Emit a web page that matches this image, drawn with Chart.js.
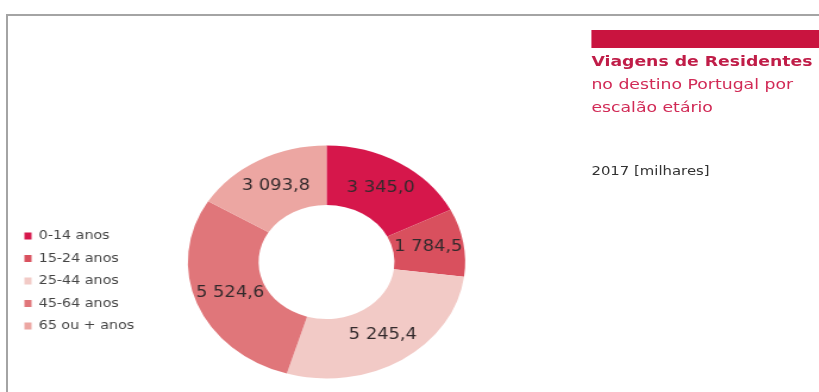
<!DOCTYPE html>
<html lang="pt">
<head>
<meta charset="utf-8">
<title>Viagens de Residentes por escalão etário</title>
<script src="https://cdn.jsdelivr.net/npm/chart.js@4/dist/chart.umd.min.js"></script>
<style>
  html, body { margin: 0; padding: 0; background: #fff; overflow: hidden; }
  body { width: 819px; height: 392px; position: relative; font-family: "DejaVu Sans", sans-serif; }
  #moldura { position: absolute; left: 6px; top: 14px; width: 1000px; height: 1000px; border: 2px solid #a4a4a4; }
  /* tudo é desenhado um pouco esticado na horizontal */
  #painel { position: absolute; left: 0; top: 0; width: 688px; height: 392px; transform: scaleX(1.19); transform-origin: 0 0; }
  #grafico { position: absolute; left: 0; top: 0; }
  #barra { position: absolute; left: 497px; top: 30px; width: 200px; height: 18px; background: #c9143f; }
  #titulo { position: absolute; left: 497px; top: 50px; font-size: 14.5px; line-height: 23px; color: #d12a56; white-space: nowrap; }
  #titulo b { color: #c01d48; }
  #unidade { position: absolute; left: 497px; top: 163px; font-size: 12.5px; color: #333; white-space: nowrap; }
</style>
</head>
<body>
<div id="moldura"></div>
<div id="painel">
  <canvas id="grafico" width="688" height="392"></canvas>
  <div id="barra"></div>
  <div id="titulo"><b>Viagens de Residentes</b><br>no destino Portugal por<br>escalão etário</div>
  <div id="unidade">2017 [milhares]</div>
</div>
<script>
// escalões etários e viagens (milhares)
const escaloes = ["0-14 anos", "15-24 anos", "25-44 anos", "45-64 anos", "65 ou + anos"];
const viagens = [3345.0, 1784.5, 5245.4, 5524.6, 3093.8];
const cores = ["#d6174b", "#d9505e", "#f2cac6", "#e0767a", "#eca6a2"];

// 3345.0 -> "3 345,0"
function formatar(v) {
  const partes = v.toFixed(1).split(".");
  return partes[0].replace(/\B(?=(\d{3})+(?!\d))/g, " ") + "," + partes[1];
}

// escreve o valor no meio de cada fatia
const rotulos = {
  id: "rotulos",
  afterDatasetsDraw(chart) {
    const c = chart.ctx;
    c.save();
    c.font = "15px 'DejaVu Sans'";
    c.fillStyle = "#332a2c";
    c.textAlign = "center";
    c.textBaseline = "middle";
    chart.getDatasetMeta(0).data.forEach(function (arco, i) {
      const p = arco.tooltipPosition();
      c.fillText(formatar(chart.data.datasets[0].data[i]), p.x, p.y);
    });
    c.restore();
  }
};

const ctx = document.getElementById("grafico");
new Chart(ctx, {
  type: "doughnut",
  data: {
    labels: escaloes,
    datasets: [{
      data: viagens,
      backgroundColor: cores,
      borderWidth: 0,
      hoverOffset: 0
    }]
  },
  options: {
    responsive: false,
    animation: false,
    devicePixelRatio: 1,
    cutout: "49%",
    layout: { padding: { left: 10, right: 262, top: 145.5, bottom: 13.5 } },
    plugins: {
      legend: {
        position: "left",
        title: { display: true, text: "", padding: { top: 0, bottom: 23.6 } },
        labels: {
          boxWidth: 6,
          boxHeight: 7,
          padding: 10.5,
          color: "#444",
          font: { family: "'DejaVu Sans'", size: 12 }
        }
      },
      tooltip: { enabled: false }
    }
  },
  plugins: [rotulos]
});
</script>
</body>
</html>
